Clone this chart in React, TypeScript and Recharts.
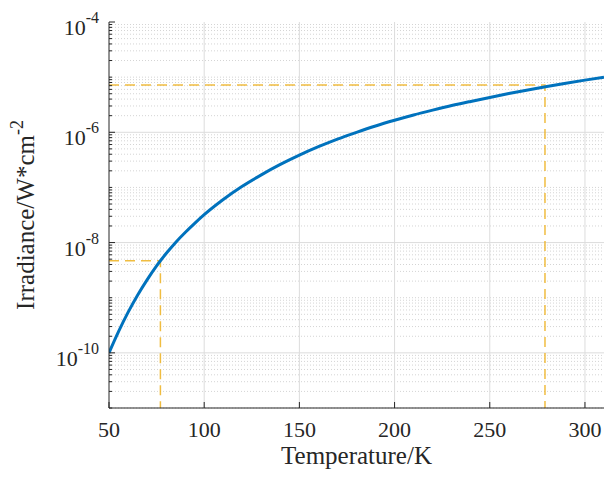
import { LineChart, Line, XAxis, YAxis, ReferenceLine } from "recharts";

// temperature (K) and in-band irradiance (W/cm^2)
const temps = [50, 55, 60, 65, 70, 75, 77, 80, 85, 90, 95, 100, 110, 120, 130, 140, 150,
  160, 170, 180, 190, 200, 210, 220, 230, 240, 250, 260, 270, 280, 290, 300, 310];
const irradiance = [1.0e-10, 2.43e-10, 5.41e-10, 1.11e-9, 2.11e-9, 3.78e-9, 4.68e-9, 6.32e-9,
  1.005e-8, 1.52e-8, 2.23e-8, 3.2e-8, 6.04e-8, 1.05e-7, 1.69e-7, 2.61e-7, 3.85e-7,
  5.47e-7, 7.52e-7, 9.98e-7, 1.3e-6, 1.65e-6, 2.06e-6, 2.52e-6, 3.05e-6, 3.63e-6, 4.29e-6,
  5.04e-6, 5.86e-6, 6.76e-6, 7.75e-6, 8.83e-6, 1.0e-5];

// the two dashed read-outs
const markerTemps = [77, 279];
const markerValues = [4.7e-9, 7.2e-6];

const xTicks = [50, 100, 150, 200, 250, 300];
const xGrid = [100, 150, 200, 250, 300];
const decades = [-11, -10, -9, -8, -7, -6, -5];
const majorDecades = [-10, -8, -6, -4];

const X_DOMAIN = [50, 310];
const Y_DOMAIN = [1e-11, 1e-4];
const FONT = '"Liberation Serif", "Times New Roman", serif';
const AXIS = "#262626";

const yTicks: number[] = [];
for (const d of decades) for (let k = 1; k <= 9; k++) yTicks.push(k * Math.pow(10, d));
yTicks.push(1e-4);

const isMajor = (v: number) => {
  const lg = Math.log10(v);
  const r = Math.round(lg);
  return Math.abs(lg - r) < 1e-6 && majorDecades.includes(r);
};
const minorGrid = yTicks.filter((v) => !isMajor(v) && v < 1e-4);
const majorGrid = yTicks.filter((v) => isMajor(v) && v < 1e-4);

const curve = temps.map((t, i) => ({ t, v: irradiance[i] }));
const markers = markerTemps.map((t, i) => [
  { t: X_DOMAIN[0], v: markerValues[i] },
  { t, v: markerValues[i] },
  { t, v: Y_DOMAIN[0] },
]);

function LeftTick(props: any) {
  const { x, y, payload } = props;
  const major = isMajor(payload.value);
  const exp = Math.round(Math.log10(payload.value));
  return (
    <g>
      <line x1={x} x2={x + (major ? 6 : 3)} y1={y} y2={y} stroke={AXIS} />
      {major && (
        <text x={x - 10} y={y + 13} textAnchor="end" fill={AXIS} fontFamily={FONT} fontSize={22}>
          10<tspan dy={-12} fontSize={16}>{exp}</tspan>
        </text>
      )}
    </g>
  );
}

function RightTick(props: any) {
  const { x, y, payload } = props;
  const major = isMajor(payload.value);
  return <line x1={x} x2={x - (major ? 6 : 3)} y1={y} y2={y} stroke={AXIS} />;
}

function BottomTick(props: any) {
  const { x, y, payload } = props;
  return (
    <g>
      <line x1={x} x2={x} y1={y} y2={y - 6} stroke={AXIS} />
      <text x={x} y={y + 29} textAnchor="middle" fill={AXIS} fontFamily={FONT} fontSize={22}>
        {payload.value}
      </text>
    </g>
  );
}

function TopTick(props: any) {
  const { x, y } = props;
  return <line x1={x} x2={x} y1={y} y2={y + 6} stroke={AXIS} />;
}

export default function App() {
  return (
    <div style={{ position: "absolute", left: 0, top: 0, width: 606, height: 478, background: "#fff" }}>
      <LineChart width={606} height={478} margin={{ top: 22, right: 2, bottom: 0, left: 0 }}>
        <XAxis xAxisId="b" dataKey="t" type="number" domain={X_DOMAIN} ticks={xTicks} interval={0}
          allowDataOverflow height={70} tickSize={0} tickMargin={0} tick={<BottomTick />}
          axisLine={{ stroke: AXIS }} tickLine={false} />
        <XAxis xAxisId="top" orientation="top" dataKey="t" type="number" domain={X_DOMAIN} ticks={xTicks}
          interval={0} allowDataOverflow height={0} tickSize={0} tickMargin={0} tick={<TopTick />}
          axisLine={{ stroke: AXIS }} tickLine={false} />
        <YAxis yAxisId="l" dataKey="v" type="number" scale="log" domain={Y_DOMAIN} ticks={yTicks}
          interval={0} allowDataOverflow width={109} tickSize={0} tickMargin={0} tick={<LeftTick />}
          axisLine={{ stroke: AXIS }} tickLine={false} />
        <YAxis yAxisId="r" orientation="right" dataKey="v" type="number" scale="log" domain={Y_DOMAIN}
          ticks={yTicks} interval={0} allowDataOverflow width={0} tickSize={0} tickMargin={0}
          tick={<RightTick />} axisLine={{ stroke: AXIS }} tickLine={false} />

        {minorGrid.map((v) => (
          <ReferenceLine key={"m" + v} xAxisId="b" yAxisId="l" y={v} stroke="#d4d4d4" strokeDasharray="1 2" />
        ))}
        {majorGrid.map((v) => (
          <ReferenceLine key={"M" + v} xAxisId="b" yAxisId="l" y={v} stroke="#dcdcdc" />
        ))}
        {xGrid.map((t) => (
          <ReferenceLine key={"x" + t} xAxisId="b" yAxisId="l" x={t} stroke="#dcdcdc" />
        ))}

        {markers.map((d, i) => (
          <Line key={"k" + i} xAxisId="b" yAxisId="l" data={d} dataKey="v" type="linear"
            stroke="#EDB120" strokeOpacity={0.85} strokeWidth={1.5} strokeDasharray="10 6"
            dot={false} activeDot={false} isAnimationActive={false} />
        ))}
        <Line xAxisId="b" yAxisId="l" data={curve} dataKey="v" type="monotone" stroke="#0072BD"
          strokeWidth={3} dot={false} activeDot={false} isAnimationActive={false} />
      </LineChart>
      <svg width={606} height={478} style={{ position: "absolute", left: 0, top: 0, pointerEvents: "none" }}>
        <text x={356.5} y={464} textAnchor="middle" fill={AXIS} fontFamily={FONT} fontSize={25}>
          Temperature/K
        </text>
        <text transform="translate(34,215) rotate(-90)" textAnchor="middle" fill={AXIS} fontFamily={FONT} fontSize={25}>
          Irradiance/W*cm<tspan dy={-11} fontSize={18}>-2</tspan>
        </text>
      </svg>
    </div>
  );
}
